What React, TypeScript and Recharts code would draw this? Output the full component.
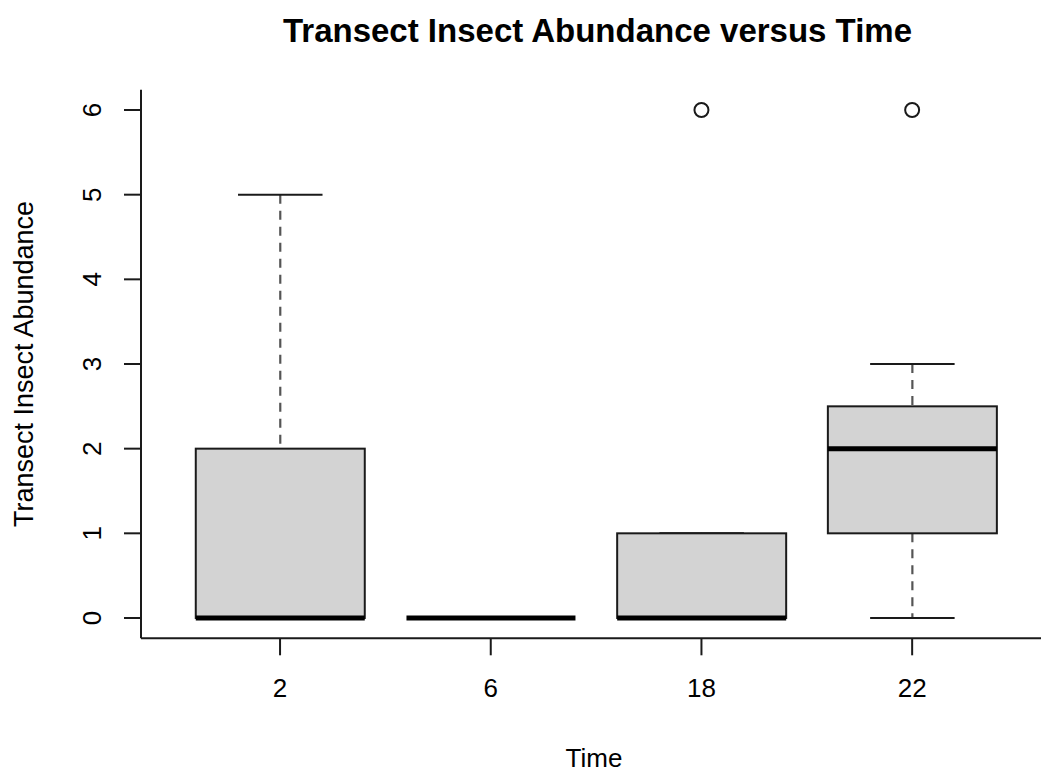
import { ComposedChart, Bar, Scatter, XAxis, YAxis } from "recharts"

const times = ["2", "6", "18", "22"]
const whiskerLow = [0, 0, 0, 0]
const q1 = [0, 0, 0, 1]
const median = [0, 0, 0, 2]
const q3 = [2, 0, 1, 2.5]
const whiskerHigh = [5, 0, 1, 3]
const outlierTimes = ["18", "22"]
const outlierValues = [6, 6]
const yTicks = [0, 1, 2, 3, 4, 5, 6]

const FONT = "'Liberation Sans', Arial, Helvetica, sans-serif"
const INK = "#1a1a1a"

const boxData = times.map((t, i) => {
  const oi = outlierTimes.indexOf(t)
  return {
    time: t,
    lo: whiskerLow[i],
    q1: q1[i],
    med: median[i],
    q3: q3[i],
    hi: whiskerHigh[i],
    out: oi >= 0 ? outlierValues[oi] : null,
  }
})

// draws one R-style box; pixel positions are derived from the bar's own
// [lo, hi] extent that recharts computed
const BoxShape = (props: any) => {
  const { x, y, width, height, payload } = props
  if (x == null || y == null) return null
  const { lo, q1, med, q3, hi } = payload
  const k = hi > lo ? height / (hi - lo) : 0
  const py = (v: number) => y + (hi - v) * k
  const cx = x + width / 2
  const capL = cx - width / 4
  const capR = cx + width / 4
  return (
    <g>
      {/* whiskers */}
      <line x1={cx} x2={cx} y1={py(hi)} y2={py(q3)} stroke="#555" strokeWidth={2.2} strokeDasharray="9 7" />
      <line x1={cx} x2={cx} y1={py(q1)} y2={py(lo)} stroke="#555" strokeWidth={2.2} strokeDasharray="9 7" />
      <line x1={capL} x2={capR} y1={py(hi)} y2={py(hi)} stroke={INK} strokeWidth={2} />
      <line x1={capL} x2={capR} y1={py(lo)} y2={py(lo)} stroke={INK} strokeWidth={2} />
      {/* box */}
      <rect x={x} y={py(q3)} width={width} height={py(q1) - py(q3)}
            fill="#d3d3d3" stroke={INK} strokeWidth={2} />
      {/* median */}
      <line x1={x} x2={x + width} y1={py(med)} y2={py(med)} stroke="#000" strokeWidth={5} />
    </g>
  )
}

const OpenCircle = (props: any) => {
  const { cx, cy, payload } = props
  if (!Number.isFinite(cx) || !Number.isFinite(cy) || payload?.out == null) return null
  return <circle cx={cx} cy={cy} r={7} fill="none" stroke={INK} strokeWidth={2} />
}

const XTick = ({ x, y, payload }: any) => (
  <text x={x} y={y + 42} textAnchor="middle" fontSize={26} fontFamily={FONT} fill="#000">
    {payload.value}
  </text>
)

const YTick = ({ y, payload }: any) => (
  <text x={101} y={y} transform={`rotate(-90, 101, ${y})`} textAnchor="middle"
        fontSize={26} fontFamily={FONT} fill="#000">
    {payload.value}
  </text>
)

export default function App() {
  return (
    <div style={{ position: "absolute", left: 0, top: 0, width: 1041, height: 773, overflow: "hidden", background: "#fff" }}>
      <ComposedChart width={1060} height={773} data={boxData}
                     margin={{ top: 89.7, right: 9, bottom: 0, left: 0 }}
                     barCategoryGap="10%">
        <XAxis dataKey="time" type="category" xAxisId="top" orientation="top" height={0}
               padding={{ left: 33.7, right: 33.5 }} tick={false} tickLine={false}
               axisLine={{ stroke: INK, strokeWidth: 2 }} />
        <XAxis dataKey="time" type="category" height={134.7}
               padding={{ left: 33.7, right: 33.5 }} tickSize={17} tickMargin={0}
               tickLine={{ stroke: INK, strokeWidth: 2 }}
               axisLine={{ stroke: INK, strokeWidth: 2 }}
               tick={<XTick />} interval={0}
               label={(p: any) => {
                 const vb = p.viewBox
                 return (
                   <g>
                     <text x={594} y={vb.y + 128.7} textAnchor="middle" fontSize={26}
                           fontFamily={FONT} fill="#000">
                       Time
                     </text>
                     <text x={597.5} y={vb.y - 596.8} textAnchor="middle" fontSize={33}
                           fontWeight="bold" fontFamily={FONT} fill="#000">
                       Transect Insect Abundance versus Time
                     </text>
                   </g>
                 )
               }} />
        <YAxis type="number" domain={[-0.24, 6.24]} ticks={yTicks} width={141}
               allowDataOverflow tickSize={17} tickMargin={0}
               tickLine={{ stroke: INK, strokeWidth: 2 }}
               axisLine={{ stroke: INK, strokeWidth: 2 }}
               tick={<YTick />} interval={0}
               label={(p: any) => {
                 const vb = p.viewBox
                 const cy = vb.y + vb.height / 2
                 return (
                   <text x={33} y={cy} transform={`rotate(-90, 33, ${cy})`} textAnchor="middle"
                         fontSize={27} fontFamily={FONT} fill="#000">
                     Transect Insect Abundance
                   </text>
                 )
               }} />
        <Bar dataKey={(d: any) => [d.lo, d.hi]} shape={<BoxShape />} isAnimationActive={false} />
        <Scatter dataKey="out" shape={<OpenCircle />} isAnimationActive={false} />
      </ComposedChart>
    </div>
  )
}
